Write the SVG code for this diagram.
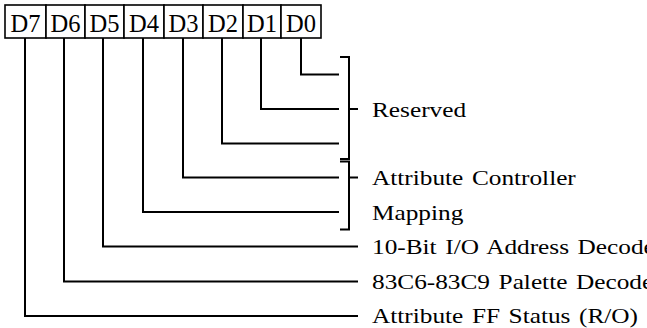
<svg xmlns="http://www.w3.org/2000/svg" width="647" height="328" viewBox="0 0 647 328">
<style>
.box{fill:#fff;stroke:#000;stroke-width:1.6}
.bt{font-family:"Liberation Serif","Times New Roman",serif;font-size:24.5px;fill:#000;text-anchor:middle}
.lbl{font-family:"Liberation Serif","Times New Roman",serif;font-size:22px;fill:#000;word-spacing:2px}
.ln{fill:none;stroke:#000;stroke-width:2}
</style>
<rect width="647" height="328" fill="#fff"/>
<g id="register">
<rect class="box" x="5" y="5" width="41" height="33"/>
<rect class="box" x="46" y="5" width="39" height="33"/>
<rect class="box" x="85" y="5" width="39" height="33"/>
<rect class="box" x="124" y="5" width="40" height="33"/>
<rect class="box" x="164" y="5" width="39" height="33"/>
<rect class="box" x="203" y="5" width="40" height="33"/>
<rect class="box" x="243" y="5" width="38" height="33"/>
<rect class="box" x="281" y="5" width="40" height="33"/>
<text class="bt" x="25.5" y="31.5">D7</text>
<text class="bt" x="65.5" y="31.5">D6</text>
<text class="bt" x="104.5" y="31.5">D5</text>
<text class="bt" x="144" y="31.5">D4</text>
<text class="bt" x="183.5" y="31.5">D3</text>
<text class="bt" x="223" y="31.5">D2</text>
<text class="bt" x="262" y="31.5">D1</text>
<text class="bt" x="301" y="31.5">D0</text>
</g>
<g id="connectors">
<path class="ln" d="M301,38 V74.5 H339"/>
<path class="ln" d="M261,38 V109 H339"/>
<path class="ln" d="M222,38 V143.5 H339"/>
<path class="ln" d="M183,38 V177.5 H339"/>
<path class="ln" d="M143,38 V212 H339"/>
<path class="ln" d="M103,38 V246.5 H358"/>
<path class="ln" d="M64,38 V281.5 H358"/>
<path class="ln" d="M25,38 V316 H358"/>
<path class="ln" d="M340,57 H349 V159 H340 M349,109 H358"/>
<path class="ln" d="M340,161.5 H349 V229.5 H340 M349,177.5 H358"/>
</g>
<g id="labels" transform="translate(372,0) scale(1.15,1)">
<text class="lbl" x="0" y="117">Reserved</text>
<text class="lbl" x="0" y="185">Attribute Controller</text>
<text class="lbl" x="0" y="220">Mapping</text>
<text class="lbl" x="0" y="254">10-Bit I/O Address Decode</text>
<text class="lbl" x="0" y="289">83C6-83C9 Palette Decode</text>
<text class="lbl" x="0" y="323">Attribute FF Status (R/O)</text>
</g>
</svg>
